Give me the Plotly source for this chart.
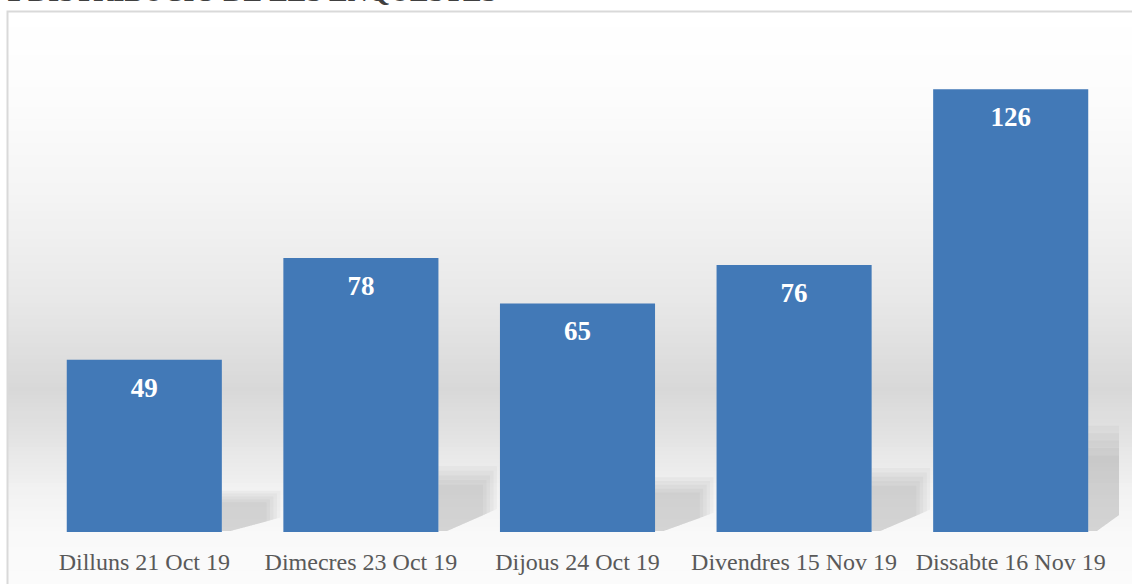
import plotly.graph_objects as go

# ---- data ----
categories = ["Dilluns 21 Oct 19", "Dimecres 23 Oct 19", "Dijous 24 Oct 19",
              "Divendres 15 Nov 19", "Dissabte 16 Nov 19"]
values = [49, 78, 65, 76, 126]
title_text = "2 DISTRIBUCIÓ DE LES ENQUESTES"

W, H = 1132, 584
ML, MR, MT, MB = 36, 13, 40, 52
plot_h = H - MT - MB
Y_MAX = 140
units_per_px = Y_MAX / plot_h

def px_to_paper_y(py):
    return (H - MB - py) / plot_h

def px_to_paper_x(px):
    return (px - ML) / (W - ML - MR)

# background gradient stops (pixel y, grey level)
stops = [(11, 255), (100, 252), (200, 244), (300, 232), (390, 216),
         (440, 228), (490, 242), (535, 249), (584, 251)]

def grey_at(py):
    for (y0, g0), (y1, g1) in zip(stops, stops[1:]):
        if y0 <= py <= y1:
            t = (py - y0) / (y1 - y0)
            return g0 + (g1 - g0) * t
    return stops[-1][1]

shapes = []
band = 4
y = 11
while y < H:
    g = int(round(grey_at(y + band / 2)))
    shapes.append(dict(type="rect", xref="paper", yref="paper", layer="below",
                       x0=px_to_paper_x(8), x1=px_to_paper_x(W + 5),
                       y0=px_to_paper_y(min(y + band, H + 2)), y1=px_to_paper_y(y),
                       fillcolor=f"rgb({g},{g},{g})", line=dict(width=0)))
    y += band

# chart border
shapes.append(dict(type="rect", xref="paper", yref="paper", layer="below",
                   x0=px_to_paper_x(7.5), x1=px_to_paper_x(W + 10),
                   y0=px_to_paper_y(H + 10), y1=px_to_paper_y(11.5),
                   fillcolor="rgba(0,0,0,0)", line=dict(color="#d9d9d9", width=2)))

# soft floor shadows to the right of each bar (derived from bar values)
hw = 0.358
for i, v in enumerate(values):
    top = 0.24 * v
    for k in range(5):
        s = k / 5
        xr = i + hw
        sw = 0.27 - s * 0.08
        t = top * (1 - s * 0.35)
        path = (f"M {xr},{t} L {xr + sw},{t} L {xr + sw},{t * 0.35} "
                f"L {xr + 0.04},{0.3} L {xr},{0.3} Z")
        shapes.append(dict(type="path", xref="x", yref="y", layer="below",
                           path=path, fillcolor="rgba(110,110,110,0.055)",
                           line=dict(width=0)))

fig = go.Figure()
fig.add_trace(go.Bar(
    x=categories, y=values,
    marker=dict(color="#4279b7", line=dict(width=0)),
    hoverinfo="x+y",
))
# value labels placed inside the bars, a fixed pixel distance below the top
label_offset = 30 * units_per_px
fig.add_trace(go.Scatter(
    x=categories, y=[v - label_offset for v in values],
    mode="text", text=[str(v) for v in values], textposition="middle center",
    textfont=dict(family="Liberation Serif", size=27, color="white", weight="bold"),
    hoverinfo="skip",
))

fig.update_layout(
    width=W, height=H,
    margin=dict(l=ML, r=MR, t=MT, b=MB, autoexpand=False),
    paper_bgcolor="white", plot_bgcolor="rgba(0,0,0,0)",
    bargap=0.284,
    showlegend=False,
    shapes=shapes,
    xaxis=dict(range=[-0.5, len(categories) - 0.5], showgrid=False, showline=False,
               zeroline=False, automargin=False,
               ticks="outside", ticklen=8, tickcolor="rgba(0,0,0,0)",
               tickfont=dict(family="Liberation Serif", size=24, color="#595959")),
    yaxis=dict(range=[0, Y_MAX], visible=False, showgrid=False, zeroline=False,
               automargin=False),
    annotations=[dict(text=f"<b>{title_text}</b>", xref="paper", yref="paper",
                      x=px_to_paper_x(5), y=px_to_paper_y(9.5), xanchor="left",
                      yanchor="bottom", showarrow=False,
                      font=dict(family="Liberation Serif", size=28, color="#404040"))],
)

fig.write_html("out.html",
               config={"displayModeBar": False},
               post_script="document.body.style.margin='0';"
                           "document.body.style.overflow='hidden';")
